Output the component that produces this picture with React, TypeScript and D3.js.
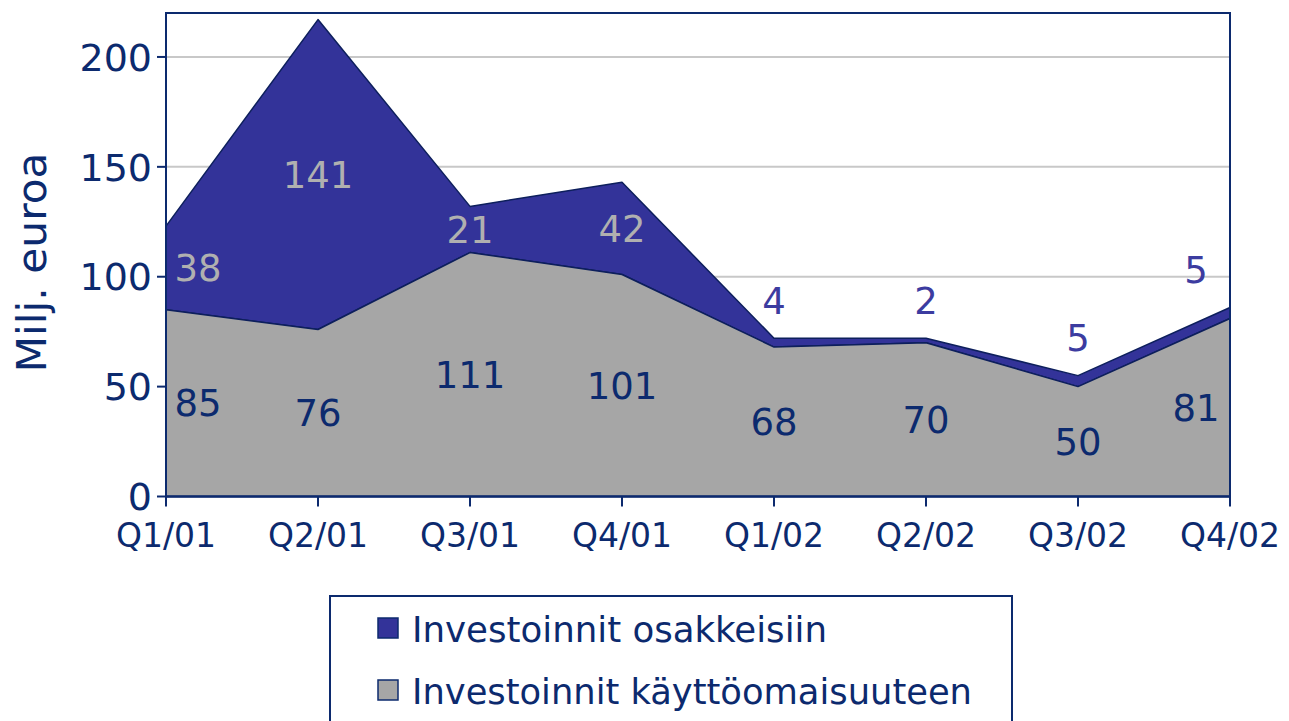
import React from 'react'
import * as d3 from 'd3'

// data (milj. euroa)
const quarters = ['Q1/01', 'Q2/01', 'Q3/01', 'Q4/01', 'Q1/02', 'Q2/02', 'Q3/02', 'Q4/02']
const kayttoomaisuus = [85, 76, 111, 101, 68, 70, 50, 81]
const osakkeet = [38, 141, 21, 42, 4, 2, 5, 5]
const yTicks = [0, 50, 100, 150, 200]
const seriesNames = ['Investoinnit osakkeisiin', 'Investoinnit käyttöomaisuuteen']

const W = 1289, H = 721
const margin = { top: 13, right: 59, bottom: 224.5, left: 166 }
const navy = '#0c2a6e'
const blue = '#333399'
const grey = '#a6a6a6'
const font = '"DejaVu Sans", Verdana, sans-serif'

export default function App() {
  const x = d3.scalePoint<string>()
    .domain(quarters)
    .range([margin.left, W - margin.right])
  const y = d3.scaleLinear()
    .domain([0, 220])
    .range([H - margin.bottom, margin.top])

  const rows = quarters.map((q, i) => ({ q, base: kayttoomaisuus[i], top: kayttoomaisuus[i] + osakkeet[i] }))

  const baseArea = d3.area<any>()
    .x(d => x(d.q)!)
    .y0(y(0))
    .y1(d => y(d.base))
  const topArea = d3.area<any>()
    .x(d => x(d.q)!)
    .y0(d => y(d.base))
    .y1(d => y(d.top))

  const x0 = x.range()[0], x1 = x.range()[1]
  const yb = y(0), yt = y.range()[1]

  // label x: edge labels pulled inward
  const labelX = (i: number) => {
    const px = x(quarters[i])!
    if (i === 0) return px + 32
    if (i === quarters.length - 1) return px - 34
    return px
  }

  return (
    <svg width={W} height={H} style={{ position: 'absolute', left: 0, top: 0 }}>
      <rect width={W} height={H} fill="#fff" />

      {/* gridlines */}
      {yTicks.filter(t => t > 0).map(t => (
        <line key={t} x1={x0} x2={x1} y1={y(t)} y2={y(t)} stroke="#c8c8c8" strokeWidth={2} />
      ))}

      {/* areas */}
      <path d={topArea(rows)!} fill={blue} stroke="#0d1f5c" strokeWidth={1.5} strokeLinejoin="round" />
      <path d={baseArea(rows)!} fill={grey} stroke="#0d1f5c" strokeWidth={1.5} strokeLinejoin="round" />

      {/* frame */}
      <path d={`M${x0},${yb}V${yt}H${x1}V${yb}`} fill="none" stroke={navy} strokeWidth={2} />
      <line x1={x0 - 1} x2={x1 + 1} y1={yb} y2={yb} stroke={navy} strokeWidth={2.5} />

      {/* y axis */}
      {yTicks.map(t => (
        <g key={t}>
          <line x1={x0 - 9} x2={x0} y1={y(t)} y2={y(t)} stroke={navy} strokeWidth={2} />
          <text x={152} y={y(t)} dy="0.36em" textAnchor="end" fontFamily={font} fontSize={38} fill={navy}>{t}</text>
        </g>
      ))}

      {/* x axis */}
      {quarters.map(q => (
        <g key={q}>
          <line x1={x(q)} x2={x(q)} y1={yb} y2={yb + 10} stroke={navy} strokeWidth={2} />
          <text x={x(q)} y={547} textAnchor="middle" fontFamily={font} fontSize={33} fill={navy}>{q}</text>
        </g>
      ))}

      {/* y title */}
      <text transform={`translate(46,${(152 + 373) / 2}) rotate(-90)`} textAnchor="middle"
        fontFamily={font} fontSize={40} fill={navy} textLength={220} lengthAdjust="spacingAndGlyphs">Milj. euroa</text>

      {/* value labels */}
      {rows.map((d, i) => (
        <text key={'b' + i} x={labelX(i)} y={y(d.base / 2)} dy="0.36em" textAnchor="middle"
          fontFamily={font} fontSize={37} fill={navy}>{d.base}</text>
      ))}
      {rows.map((d, i) => {
        const small = osakkeet[i] < 10
        const ly = small ? y(d.top) - 38 : y((d.base + d.top) / 2)
        return (
          <text key={'t' + i} x={labelX(i)} y={ly} dy="0.36em" textAnchor="middle"
            fontFamily={font} fontSize={37} fill={small ? '#3c3ca0' : '#b0b0b0'}>{osakkeet[i]}</text>
        )
      })}

      {/* legend */}
      <rect x={330} y={596} width={682} height={140} fill="#fff" stroke={navy} strokeWidth={2} />
      {seriesNames.map((name, i) => (
        <g key={name}>
          <rect x={378} y={618 + i * 62} width={20} height={20} fill={i === 0 ? blue : grey} stroke={navy} strokeWidth={1.5} />
          <text x={412} y={642 + i * 62} fontFamily={'"Liberation Sans Narrow", "DejaVu Sans Condensed", "Liberation Sans", sans-serif'}
            fontSize={35} fill={navy} textLength={i === 0 ? 415 : 560} lengthAdjust="spacingAndGlyphs">{name}</text>
        </g>
      ))}
    </svg>
  )
}
